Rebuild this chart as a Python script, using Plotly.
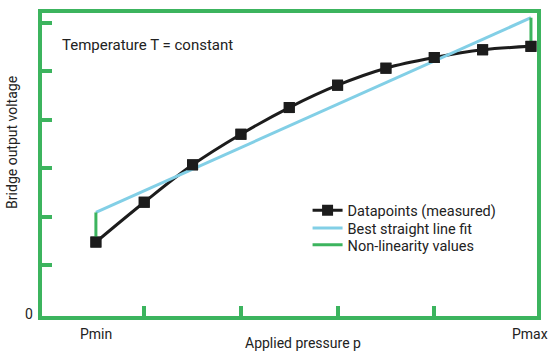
import plotly.graph_objects as go

# Data
pressure_idx = [0, 1, 2, 3, 4, 5, 6, 7, 8, 9]
voltage = [1.48, 2.30, 3.07, 3.70, 4.25, 4.71, 5.06, 5.28, 5.44, 5.51]
fit_x = [0, 9]
fit_y = [2.09, 6.10]
x_ticks = [1, 3, 5, 7]
y_ticks = [1, 2, 3, 4, 5, 6]
x_labels = ["Pmin", "Pmax"]

GREEN = "#3cb45e"
CYAN = "#82cfe6"
BLACK = "#1c1c1c"
FONT = "Roboto"

nl_x = [fit_x[0], fit_x[0], None, fit_x[1], fit_x[1]]
nl_y = [voltage[0], fit_y[0], None, voltage[-1], fit_y[1]]

fig = go.Figure()
fig.add_trace(go.Scatter(x=pressure_idx, y=voltage, mode="lines+markers",
                         name="Datapoints (measured)", legend="legend",
                         line=dict(color=BLACK, width=3, shape="spline"),
                         marker=dict(symbol="square", size=11, color=BLACK)))
fig.add_trace(go.Scatter(x=fit_x, y=fit_y, mode="lines", name="Best straight line fit",
                         legend="legend2", line=dict(color=CYAN, width=3)))
fig.add_trace(go.Scatter(x=nl_x, y=nl_y, mode="lines", name="Non-linearity values",
                         legend="legend3", line=dict(color=GREEN, width=3)))
fig.add_trace(go.Scatter(x=pressure_idx, y=voltage, mode="markers", showlegend=False,
                         marker=dict(symbol="square", size=11, color=BLACK)))

fig.update_xaxes(range=[-1.115, 9.125], tickvals=x_ticks, showticklabels=False,
                 ticks="inside", ticklen=10, tickwidth=4, tickcolor=GREEN,
                 showline=True, linewidth=4, linecolor=GREEN, mirror=True,
                 showgrid=False, zeroline=False)
fig.update_yaxes(range=[-0.043, 6.197], tickvals=y_ticks, showticklabels=False,
                 ticks="inside", ticklen=10, tickwidth=4, tickcolor=GREEN,
                 showline=True, linewidth=4, linecolor=GREEN, mirror=True,
                 showgrid=False, zeroline=False)

ann_font = dict(family=FONT, size=14, color="#222222")
annotations = [
    dict(x=fit_x[0], y=-0.06, xref="x", yref="paper", text=x_labels[0], showarrow=False,
         xanchor="center", yanchor="middle", font=ann_font),
    dict(x=fit_x[1], y=-0.06, xref="x", yref="paper", text=x_labels[1], showarrow=False,
         xanchor="center", yanchor="middle", xshift=-1, font=ann_font),
    dict(x=-0.026, y=0, xref="paper", yref="y", text="0", showarrow=False,
         xanchor="center", yanchor="middle", font=ann_font),
    dict(x=0.528, y=-0.09, xref="paper", yref="paper", text="Applied pressure p",
         showarrow=False, xanchor="center", yanchor="middle", font=ann_font),
    dict(x=-0.061, y=0.574, xref="paper", yref="paper", text="Bridge output voltage",
         showarrow=False, textangle=-90, xanchor="center", yanchor="middle", font=ann_font),
    dict(x=0.036, y=0.896, xref="paper", yref="paper", text="Temperature T = constant",
         showarrow=False, xanchor="left", yanchor="middle",
         font=dict(family=FONT, size=15, color="#222222")),
]

leg_common = dict(x=0.5365, xanchor="left", yanchor="middle", bgcolor="rgba(0,0,0,0)",
                  font=dict(family=FONT, size=14.5, color="#222222"), itemwidth=30)

fig.update_layout(
    width=550, height=356,
    margin=dict(l=42, r=12, t=9, b=40),
    paper_bgcolor="white", plot_bgcolor="white",
    font=dict(family=FONT, size=14, color="#222222"),
    showlegend=True,
    legend=dict(y=0.3485, **leg_common),
    legend2=dict(y=0.2899, **leg_common),
    legend3=dict(y=0.2345, **leg_common),
    annotations=annotations,
)

fig.write_html("out.html", post_script="document.body.style.margin='0';",
               config={"displayModeBar": False})
